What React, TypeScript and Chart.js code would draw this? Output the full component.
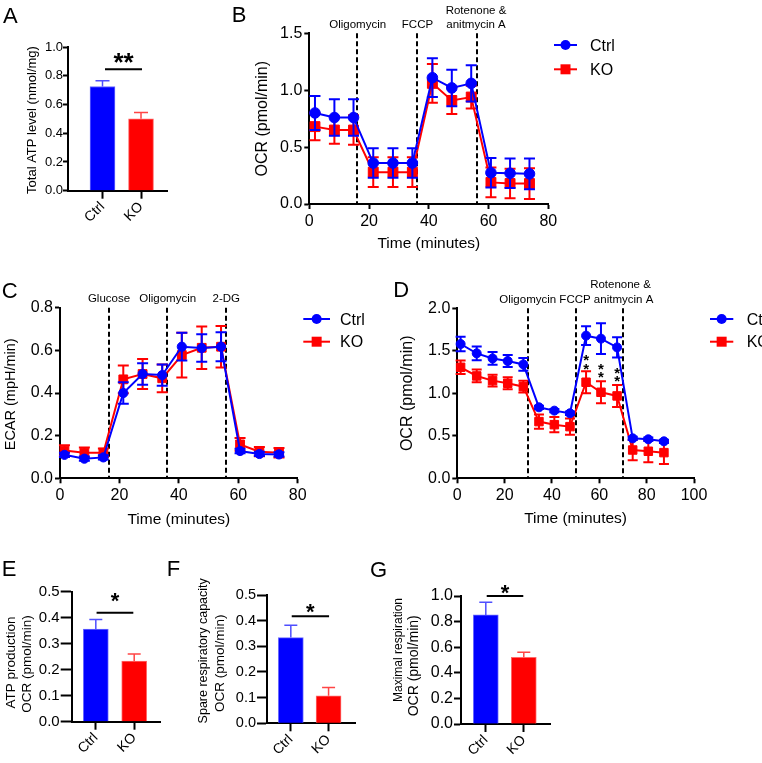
import React, { useEffect, useRef } from 'react';
import { Chart, registerables } from 'chart.js';

Chart.register(...registerables);

const FONT = '"Liberation Sans", Arial, Helvetica, sans-serif';
const BLUE = '#0000FF';
const RED = '#FF0000';

// ---------------- data ----------------
const groups = ['Ctrl', 'KO'];

const totalATP = [0.725, 0.5];
const totalATPErr = [0.04, 0.045];

const atpProduction = [0.356, 0.233];
const atpProductionErr = [0.037, 0.027];

const spareCapacity = [0.334, 0.107];
const spareCapacityErr = [0.048, 0.033];

const maximalResp = [0.852, 0.521];
const maximalRespErr = [0.1, 0.04];

// Panel B – mito stress OCR
const timeB = [1.9, 8.4, 14.8, 21.4, 28.0, 34.5, 41.2, 47.7, 54.2, 60.8, 67.2, 73.7];
const ocrCtrlB = [0.8, 0.76, 0.76, 0.36, 0.36, 0.36, 1.11, 1.02, 1.06, 0.275, 0.27, 0.265];
const ocrCtrlBErr = [0.15, 0.16, 0.16, 0.13, 0.13, 0.13, 0.17, 0.16, 0.16, 0.13, 0.13, 0.135];
const ocrKOB = [0.68, 0.65, 0.65, 0.28, 0.28, 0.28, 1.06, 0.91, 0.94, 0.19, 0.18, 0.18];
const ocrKOBErr = [0.12, 0.12, 0.13, 0.13, 0.13, 0.13, 0.17, 0.12, 0.1, 0.13, 0.13, 0.135];
const injectionsB = [16, 36, 56];

// Panel C – glycolysis stress ECAR
const timeC = [1.5, 8.2, 14.6, 21.3, 27.8, 34.4, 41.0, 47.7, 54.2, 60.6, 67.1, 73.7];
const ecarCtrl = [0.11, 0.092, 0.098, 0.4, 0.489, 0.484, 0.617, 0.611, 0.617, 0.128, 0.114, 0.112];
const ecarCtrlErr = [0.01, 0.01, 0.01, 0.05, 0.05, 0.05, 0.065, 0.065, 0.068, 0.01, 0.01, 0.01];
const ecarKO = [0.13, 0.12, 0.12, 0.464, 0.489, 0.469, 0.578, 0.612, 0.617, 0.159, 0.125, 0.12];
const ecarKOErr = [0.025, 0.025, 0.02, 0.065, 0.07, 0.065, 0.105, 0.1, 0.097, 0.03, 0.022, 0.022];
const injectionsC = [16.5, 36, 56];

// Panel D – mito stress OCR (second experiment)
const timeD = [1.4, 8.2, 14.9, 21.3, 27.9, 34.5, 41.0, 47.6, 54.4, 60.7, 67.5, 74.1, 80.7, 87.3];
const ocrCtrlD = [1.58, 1.47, 1.41, 1.38, 1.34, 0.835, 0.796, 0.765, 1.678, 1.643, 1.54, 0.47, 0.459, 0.435];
const ocrCtrlDErr = [0.085, 0.08, 0.075, 0.07, 0.075, 0.02, 0.02, 0.02, 0.11, 0.18, 0.12, 0.02, 0.02, 0.02];
const ocrKOD = [1.306, 1.204, 1.149, 1.118, 1.078, 0.667, 0.631, 0.608, 1.13, 1.012, 0.969, 0.333, 0.318, 0.302];
const ocrKODErr = [0.08, 0.075, 0.07, 0.07, 0.07, 0.085, 0.09, 0.095, 0.13, 0.13, 0.13, 0.12, 0.13, 0.135];
const injectionsD = [30, 50, 70];
const starTimesD = [54.4, 60.7, 67.5];
const starLevelsD = [1.38, 1.275, 1.23];

// ---------------- helpers ----------------
type Rect = { x: number; y: number; w: number; h: number };
type Plot = { x0: number; y0: number; x1: number; y1: number };
type Txt = { t: string; x: number; y: number; size: number; align?: CanvasTextAlign; base?: CanvasTextBaseline; rot?: number; bold?: boolean };

function padFor(c: Rect, p: Plot, yw: number, xh: number) {
  return { left: p.x0 - c.x - yw, top: p.y0 - c.y, right: c.x + c.w - p.x1, bottom: c.y + c.h - p.y1 - xh };
}

function drawText(ctx: CanvasRenderingContext2D, t: Txt, ox: number, oy: number) {
  ctx.save();
  ctx.font = `${t.bold ? 'bold ' : ''}${t.size}px ${FONT}`;
  ctx.fillStyle = '#000';
  ctx.textAlign = t.align || 'left';
  ctx.textBaseline = t.base || 'alphabetic';
  ctx.translate(t.x - ox, t.y - oy);
  if (t.rot) ctx.rotate(t.rot);
  ctx.fillText(t.t, 0, 0);
  ctx.restore();
}

function drawErrors(chart: any, i: number, upOnly: boolean, cap: number, lw: number) {
  const ds = chart.data.datasets[i];
  const errs: number[] = ds.errors;
  if (!errs) return;
  const meta = chart.getDatasetMeta(i);
  const ys = chart.scales.y;
  const ctx: CanvasRenderingContext2D = chart.ctx;
  ctx.save();
  ctx.lineWidth = lw;
  meta.data.forEach((el: any, j: number) => {
    const d = ds.data[j];
    const v = typeof d === 'object' ? d.y : d;
    const e = errs[j];
    const col = Array.isArray(ds.errorColor) ? ds.errorColor[j] : ds.errorColor;
    ctx.strokeStyle = col;
    const x = el.x;
    const yT = ys.getPixelForValue(v + e);
    const yB = upOnly ? ys.getPixelForValue(v) : ys.getPixelForValue(v - e);
    ctx.beginPath();
    ctx.moveTo(x, yB);
    ctx.lineTo(x, yT);
    ctx.moveTo(x - cap / 2, yT);
    ctx.lineTo(x + cap / 2, yT);
    if (!upOnly) {
      ctx.moveTo(x - cap / 2, yB);
      ctx.lineTo(x + cap / 2, yB);
    }
    ctx.stroke();
  });
  ctx.restore();
}

type Spec = {
  origin: Rect;
  bars?: boolean;
  cap: number;
  errWidth: number;
  vlines?: number[];
  texts: Txt[];
  legend?: { x0: number; x1: number; tx: number; ys: number[]; size: number; r: number[] };
  sig?: { x1: number; x2: number; y: number; star: string; size: number; dy: number };
  stars?: { xs: number[]; ys: number[]; size: number; gap: number };
};

function decor(spec: Spec) {
  return {
    id: 'decor',
    beforeDatasetsDraw(chart: any) {
      const { ctx, chartArea: ca } = chart;
      const xs = chart.scales.x;
      (spec.vlines || []).forEach((v) => {
        const px = Math.round(xs.getPixelForValue(v));
        ctx.save();
        ctx.strokeStyle = '#000';
        ctx.lineWidth = 2;
        ctx.setLineDash([5, 3]);
        ctx.beginPath();
        ctx.moveTo(px, ca.top);
        ctx.lineTo(px, ca.bottom);
        ctx.stroke();
        ctx.restore();
      });
    },
    beforeDatasetDraw(chart: any, args: any) {
      if (!spec.bars) drawErrors(chart, args.index, false, spec.cap, spec.errWidth);
    },
    afterDatasetDraw(chart: any, args: any) {
      if (spec.bars) drawErrors(chart, args.index, true, spec.cap, spec.errWidth);
    },
    afterDraw(chart: any) {
      const ctx: CanvasRenderingContext2D = chart.ctx;
      const ox = spec.origin.x;
      const oy = spec.origin.y;
      const xs = chart.scales.x;
      const ys = chart.scales.y;
      spec.texts.forEach((t) => drawText(ctx, t, ox, oy));
      if (spec.sig) {
        const s = spec.sig;
        const px1 = xs.getPixelForValue(s.x1);
        const px2 = xs.getPixelForValue(s.x2);
        const py = ys.getPixelForValue(s.y);
        ctx.save();
        ctx.strokeStyle = '#000';
        ctx.lineWidth = 2;
        ctx.beginPath();
        ctx.moveTo(px1, py);
        ctx.lineTo(px2, py);
        ctx.stroke();
        ctx.font = `bold ${s.size}px ${FONT}`;
        ctx.fillStyle = '#000';
        ctx.textAlign = 'center';
        ctx.textBaseline = 'alphabetic';
        ctx.fillText(s.star, (px1 + px2) / 2, py + s.dy);
        ctx.restore();
      }
      if (spec.stars) {
        const st = spec.stars;
        ctx.save();
        ctx.font = `bold ${st.size}px ${FONT}`;
        ctx.fillStyle = '#000';
        ctx.textAlign = 'center';
        ctx.textBaseline = 'alphabetic';
        st.xs.forEach((xv, k) => {
          const px = xs.getPixelForValue(xv);
          const pyc = ys.getPixelForValue(st.ys[k]);
          const b = 0.55 * st.size;
          ctx.fillText('*', px, pyc - st.gap / 2 + b);
          ctx.fillText('*', px, pyc + st.gap / 2 + b);
        });
        ctx.restore();
      }
      if (spec.legend) {
        const L = spec.legend;
        chart.data.datasets.forEach((ds: any, k: number) => {
          const y = L.ys[k] - oy;
          const x0 = L.x0 - ox;
          const x1 = L.x1 - ox;
          const xc = (x0 + x1) / 2;
          ctx.save();
          ctx.strokeStyle = ds.borderColor;
          ctx.fillStyle = ds.borderColor;
          ctx.lineWidth = 2;
          ctx.beginPath();
          ctx.moveTo(x0, y);
          ctx.lineTo(x1, y);
          ctx.stroke();
          ctx.beginPath();
          if (ds.pointStyle === 'rect') {
            const s = L.r[k];
            ctx.rect(xc - s, y - s, 2 * s, 2 * s);
          } else {
            ctx.arc(xc, y, L.r[k], 0, Math.PI * 2);
          }
          ctx.fill();
          ctx.fillStyle = '#000';
          ctx.font = `${L.size}px ${FONT}`;
          ctx.textAlign = 'left';
          ctx.textBaseline = 'alphabetic';
          ctx.fillText(ds.label, L.tx - ox, y + 0.358 * L.size);
          ctx.restore();
        });
      }
    },
  };
}

function yAxis(max: number, step: number, size: number, tickLen: number, pad: number, yw: number) {
  return {
    type: 'linear',
    min: 0,
    max,
    ticks: {
      stepSize: step,
      font: { family: FONT, size },
      color: '#000',
      padding: pad,
      callback: (v: any) => Number(v).toFixed(1),
    },
    grid: { drawOnChartArea: false, drawTicks: true, tickLength: tickLen, tickWidth: 2, tickColor: '#000' },
    border: { display: true, color: '#000', width: 2 },
    afterFit: (s: any) => {
      s.width = yw;
    },
  };
}

function barConfig(o: {
  canvas: Rect; plot: Plot; values: number[]; errs: number[]; xmin: number; xmax: number;
  ymax: number; ystep: number; yfont: number; yTick: number; yPad: number; spec: Spec;
}) {
  const yw = 40;
  const xh = 38;
  return {
    type: 'bar',
    data: {
      datasets: [
        {
          label: 'value',
          data: groups.map((g, i) => ({ x: i + 1, y: o.values[i] })),
          backgroundColor: [BLUE, RED],
          borderColor: ['#6A6AFF', '#FF6A6A'],
          borderWidth: 1,
          barThickness: 25,
          errors: o.errs,
          errorColor: ['#4F4FFF', '#FF4545'],
        },
      ],
    },
    options: {
      responsive: false,
      animation: false,
      devicePixelRatio: 1,
      layout: { padding: padFor(o.canvas, o.plot, yw, xh) },
      plugins: { legend: { display: false }, tooltip: { enabled: false }, title: { display: false } },
      scales: {
        x: {
          type: 'linear',
          offset: false,
          min: o.xmin,
          max: o.xmax,
          afterBuildTicks: (s: any) => {
            s.ticks = groups.map((g, i) => ({ value: i + 1 }));
          },
          ticks: {
            autoSkip: false,
            minRotation: 45,
            maxRotation: 45,
            font: { family: FONT, size: 14 },
            color: '#000',
            padding: 0,
            callback: (v: any) => groups[Math.round(Number(v)) - 1] ?? '',
          },
          grid: { offset: false, drawOnChartArea: false, drawTicks: true, tickLength: 8, tickWidth: 2, tickColor: '#000' },
          border: { display: true, color: '#000', width: 2 },
          afterFit: (s: any) => {
            s.height = xh;
          },
        },
        y: yAxis(o.ymax, o.ystep, o.yfont, o.yTick, o.yPad, yw),
      },
    },
    plugins: [decor(o.spec)],
  };
}

function lineConfig(o: {
  canvas: Rect; plot: Plot; times: number[]; ctrl: number[]; ctrlErr: number[]; ko: number[]; koErr: number[];
  xmax: number; ymax: number; ystep: number; rC: number; rK: number; spec: Spec;
}) {
  const yw = 40;
  const xh = 30;
  return {
    type: 'line',
    data: {
      datasets: [
        {
          label: 'Ctrl',
          data: o.times.map((t, i) => ({ x: t, y: o.ctrl[i] })),
          borderColor: BLUE,
          backgroundColor: BLUE,
          pointBackgroundColor: BLUE,
          pointBorderColor: BLUE,
          pointStyle: 'circle',
          pointRadius: o.rC,
          pointBorderWidth: 1,
          borderWidth: 2,
          tension: 0,
          errors: o.ctrlErr,
          errorColor: BLUE,
          clip: false,
        },
        {
          label: 'KO',
          data: o.times.map((t, i) => ({ x: t, y: o.ko[i] })),
          borderColor: RED,
          backgroundColor: RED,
          pointBackgroundColor: RED,
          pointBorderColor: RED,
          pointStyle: 'rect',
          pointRadius: o.rK,
          pointBorderWidth: 1,
          borderWidth: 2,
          tension: 0,
          errors: o.koErr,
          errorColor: RED,
          clip: false,
        },
      ],
    },
    options: {
      responsive: false,
      animation: false,
      devicePixelRatio: 1,
      layout: { padding: padFor(o.canvas, o.plot, yw, xh) },
      plugins: { legend: { display: false }, tooltip: { enabled: false }, title: { display: false } },
      scales: {
        x: {
          type: 'linear',
          min: 0,
          max: o.xmax,
          ticks: {
            stepSize: 20,
            font: { family: FONT, size: 16 },
            color: '#000',
            padding: 3,
            callback: (v: any) => String(v),
          },
          grid: { drawOnChartArea: false, drawTicks: true, tickLength: 5, tickWidth: 2, tickColor: '#000' },
          border: { display: true, color: '#000', width: 2 },
          afterFit: (s: any) => {
            s.height = xh;
          },
        },
        y: yAxis(o.ymax, o.ystep, 16, 5, 2, yw),
      },
    },
    plugins: [decor(o.spec)],
  };
}

// ---------------- panel layouts ----------------
const R = -Math.PI / 2;

const cA: Rect = { x: 0, y: 0, w: 190, h: 245 };
const cB: Rect = { x: 190, y: 0, w: 572, h: 260 };
const cC: Rect = { x: 0, y: 255, w: 380, h: 275 };
const cD: Rect = { x: 380, y: 255, w: 382, h: 275 };
const cE: Rect = { x: 0, y: 540, w: 165, h: 223 };
const cF: Rect = { x: 165, y: 540, w: 200, h: 223 };
const cG: Rect = { x: 365, y: 540, w: 235, h: 223 };

const configs: { rect: Rect; cfg: any }[] = [
  {
    rect: cA,
    cfg: barConfig({
      canvas: cA,
      plot: { x0: 68, y0: 47, x1: 167, y1: 190.7 },
      values: totalATP,
      errs: totalATPErr,
      xmin: 0.104,
      xmax: 2.675,
      ymax: 1,
      ystep: 0.2,
      yfont: 13,
      yTick: 5,
      yPad: 0,
      spec: {
        origin: cA,
        bars: true,
        cap: 14,
        errWidth: 1.5,
        texts: [
          { t: 'A', x: 3, y: 23.3, size: 22 },
          { t: 'Total ATP level (nmol/mg)', x: 32.5, y: 120, size: 13, align: 'center', base: 'middle', rot: R },
        ],
        sig: { x1: 1.065, x2: 2.026, y: 0.845, star: '**', size: 26, dy: 2 },
      },
    }),
  },
  {
    rect: cB,
    cfg: lineConfig({
      canvas: cB,
      plot: { x0: 309.3, y0: 33.3, x1: 548.3, y1: 204 },
      times: timeB,
      ctrl: ocrCtrlB,
      ctrlErr: ocrCtrlBErr,
      ko: ocrKOB,
      koErr: ocrKOBErr,
      xmax: 80,
      ymax: 1.5,
      ystep: 0.5,
      rC: 5.3,
      rK: 7,
      spec: {
        origin: cB,
        cap: 11,
        errWidth: 2,
        vlines: injectionsB,
        texts: [
          { t: 'B', x: 231.7, y: 21.7, size: 22 },
          { t: 'OCR (pmol/min)', x: 262.3, y: 118.7, size: 16, align: 'center', base: 'middle', rot: R },
          { t: 'Time (minutes)', x: 428.8, y: 247.8, size: 15.5, align: 'center' },
          { t: 'Oligomycin', x: 357.7, y: 28.2, size: 11.5, align: 'center' },
          { t: 'FCCP', x: 417.5, y: 28.2, size: 11.5, align: 'center' },
          { t: 'Rotenone &', x: 476, y: 14.2, size: 11.5, align: 'center' },
          { t: 'anitmycin A', x: 476, y: 28.2, size: 11.5, align: 'center' },
        ],
        legend: { x0: 554, x1: 577, tx: 590, ys: [45, 69.3], size: 16, r: [5, 5] },
      },
    }),
  },
  {
    rect: cC,
    cfg: lineConfig({
      canvas: cC,
      plot: { x0: 60, y0: 307.7, x1: 297.7, y1: 478.3 },
      times: timeC,
      ctrl: ecarCtrl,
      ctrlErr: ecarCtrlErr,
      ko: ecarKO,
      koErr: ecarKOErr,
      xmax: 80,
      ymax: 0.8,
      ystep: 0.2,
      rC: 4.6,
      rK: 6.2,
      spec: {
        origin: cC,
        cap: 11,
        errWidth: 2,
        vlines: injectionsC,
        texts: [
          { t: 'C', x: 1.7, y: 298, size: 22 },
          { t: 'ECAR (mpH/min)', x: 10.8, y: 394.3, size: 14.5, align: 'center', base: 'middle', rot: R },
          { t: 'Time (minutes)', x: 178.8, y: 523.6, size: 15.5, align: 'center' },
          { t: 'Glucose', x: 109, y: 301.5, size: 11.5, align: 'center' },
          { t: 'Oligomycin', x: 167.7, y: 301.5, size: 11.5, align: 'center' },
          { t: '2-DG', x: 226.3, y: 301.5, size: 11.5, align: 'center' },
        ],
        legend: { x0: 303.3, x1: 330, tx: 340, ys: [319, 341.7], size: 16, r: [5, 5] },
      },
    }),
  },
  {
    rect: cD,
    cfg: lineConfig({
      canvas: cD,
      plot: { x0: 457.3, y0: 308.3, x1: 694, y1: 478.3 },
      times: timeD,
      ctrl: ocrCtrlD,
      ctrlErr: ocrCtrlDErr,
      ko: ocrKOD,
      koErr: ocrKODErr,
      xmax: 100,
      ymax: 2.0,
      ystep: 0.5,
      rC: 4.5,
      rK: 6,
      spec: {
        origin: cD,
        cap: 10,
        errWidth: 2,
        vlines: injectionsD,
        texts: [
          { t: 'D', x: 393.3, y: 296.7, size: 22 },
          { t: 'OCR (pmol/min)', x: 408, y: 393.3, size: 16, align: 'center', base: 'middle', rot: R },
          { t: 'Time (minutes)', x: 575.6, y: 523, size: 15.5, align: 'center' },
          { t: 'Rotenone &', x: 620.5, y: 288.2, size: 11.5, align: 'center' },
          { t: 'Oligomycin FCCP anitmycin A', x: 499.3, y: 303.2, size: 11.5, align: 'left' },
        ],
        legend: { x0: 710, x1: 733.3, tx: 746.7, ys: [319, 341.7], size: 16, r: [5, 5] },
        stars: { xs: starTimesD, ys: starLevelsD, size: 15, gap: 8.5 },
      },
    }),
  },
  {
    rect: cE,
    cfg: barConfig({
      canvas: cE,
      plot: { x0: 71.7, y0: 591.7, x1: 160, y1: 721.7 },
      values: atpProduction,
      errs: atpProductionErr,
      xmin: 0.372,
      xmax: 2.672,
      ymax: 0.5,
      ystep: 0.1,
      yfont: 15,
      yTick: 11,
      yPad: 1,
      spec: {
        origin: cE,
        bars: true,
        cap: 13,
        errWidth: 1.5,
        texts: [
          { t: 'E', x: 1.7, y: 576, size: 22 },
          { t: 'ATP production', x: 11.7, y: 662.5, size: 13.5, align: 'center', base: 'middle', rot: R },
          { t: 'OCR (pmol/min)', x: 27, y: 664, size: 13.5, align: 'center', base: 'middle', rot: R },
        ],
        sig: { x1: 1.02, x2: 1.977, y: 0.419, star: '*', size: 22, dy: -5 },
      },
    }),
  },
  {
    rect: cF,
    cfg: barConfig({
      canvas: cF,
      plot: { x0: 267, y0: 595, x1: 355, y1: 723.3 },
      values: spareCapacity,
      errs: spareCapacityErr,
      xmin: 0.369,
      xmax: 2.7,
      ymax: 0.5,
      ystep: 0.1,
      yfont: 14.5,
      yTick: 10,
      yPad: 1,
      spec: {
        origin: cF,
        bars: true,
        cap: 13,
        errWidth: 1.5,
        texts: [
          { t: 'F', x: 166.7, y: 576, size: 22 },
          { t: 'Spare respiratory capacity', x: 203.7, y: 650.8, size: 12.5, align: 'center', base: 'middle', rot: R },
          { t: 'OCR (pmol/min)', x: 220, y: 663.3, size: 13.5, align: 'center', base: 'middle', rot: R },
        ],
        sig: { x1: 1.024, x2: 2.013, y: 0.417, star: '*', size: 22, dy: 3 },
      },
    }),
  },
  {
    rect: cG,
    cfg: barConfig({
      canvas: cG,
      plot: { x0: 461, y0: 596, x1: 550, y1: 724 },
      values: maximalResp,
      errs: maximalRespErr,
      xmin: 0.347,
      xmax: 2.69,
      ymax: 1,
      ystep: 0.2,
      yfont: 16,
      yTick: 7,
      yPad: 1,
      spec: {
        origin: cG,
        bars: true,
        cap: 13,
        errWidth: 1.5,
        texts: [
          { t: 'G', x: 370, y: 577, size: 22 },
          { t: 'Maximal respiration', x: 398.3, y: 650, size: 12, align: 'center', base: 'middle', rot: R },
          { t: 'OCR (pmol/min)', x: 414, y: 665.8, size: 14, align: 'center', base: 'middle', rot: R },
        ],
        sig: { x1: 1.024, x2: 1.987, y: 1.0, star: '*', size: 22, dy: 4 },
      },
    }),
  },
];

function Panel({ rect, cfg }: { rect: Rect; cfg: any }) {
  const ref = useRef<HTMLCanvasElement>(null);
  useEffect(() => {
    const chart = new Chart(ref.current as HTMLCanvasElement, cfg);
    return () => chart.destroy();
  }, []);
  return (
    <canvas
      ref={ref}
      width={rect.w}
      height={rect.h}
      style={{ position: 'absolute', left: rect.x, top: rect.y, width: rect.w, height: rect.h }}
    />
  );
}

export default function App() {
  return (
    <div style={{ position: 'absolute', left: 0, top: 0, width: 762, height: 763, background: '#fff', overflow: 'hidden' }}>
      {configs.map((c, i) => (
        <Panel key={i} rect={c.rect} cfg={c.cfg} />
      ))}
    </div>
  );
}
